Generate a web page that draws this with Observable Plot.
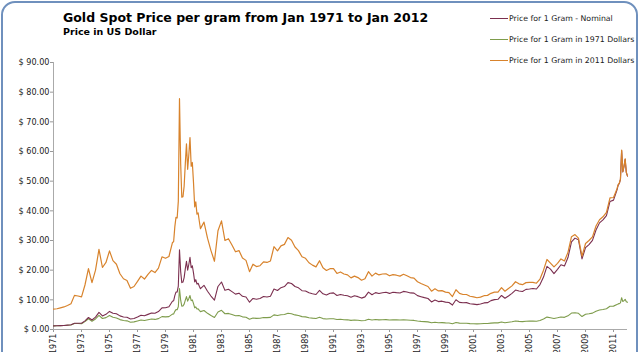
<!DOCTYPE html>
<html>
<head>
<meta charset="utf-8">
<script src="https://cdn.jsdelivr.net/npm/d3@7"></script>
<script src="https://cdn.jsdelivr.net/npm/@observablehq/plot@0.6"></script>
<style>
  html, body { margin: 0; padding: 0; background: #fff; }
  #wrap { position: relative; width: 640px; height: 352px; overflow: hidden; font-family: "DejaVu Sans", sans-serif; }
  #frame { position: absolute; left: 1px; top: 1px; width: 637px; height: 420px; border: 2px solid #6f90bd; border-radius: 14px; box-sizing: border-box; pointer-events: none; }
  #chart { position: absolute; left: 0; top: 0; }
  .title { position: absolute; left: 63px; top: 10px; font-size: 12.5px; font-weight: bold; color: #000; white-space: nowrap; }
  .subtitle { position: absolute; left: 63px; top: 26px; font-size: 9.5px; font-weight: bold; color: #000; white-space: nowrap; }
  .leg { position: absolute; left: 490px; font-size: 7.8px; color: #222; white-space: nowrap; display: flex; align-items: center; }
  .leg span.sw { display: inline-block; width: 18px; height: 0; border-top: 1.3px solid; margin-right: 1px; }
  #chart svg g[aria-label="y-axis tick"] path, #chart svg g[aria-label="x-axis tick"] path { stroke: #999; }
  #chart svg g[aria-label="y-axis"] .tick line, #chart svg g[aria-label="x-axis"] .tick line { stroke: #999; }
  #chart svg .domain { stroke: #aaa; }
</style>
</head>
<body>
<div id="wrap">
  <div id="chart"></div>
  <div class="title">Gold Spot Price per gram from Jan 1971 to Jan 2012</div>
  <div class="subtitle">Price in US Dollar</div>
  <div class="leg" style="top:14px"><span class="sw" style="border-color:#7b2f4f"></span>Price for 1 Gram - Nominal</div>
  <div class="leg" style="top:35px"><span class="sw" style="border-color:#7e9c4c"></span>Price for 1 Gram in 1971 Dollars</div>
  <div class="leg" style="top:56px"><span class="sw" style="border-color:#d8832c"></span>Price for 1 Gram in 2011 Dollars</div>
  <div id="frame"></div>
</div>
<script>
// Dates of the observations (quarterly, monthly around 1979-81 and in 2011)
const dates = [
"1971-01","1971-04","1971-07","1971-10","1972-01","1972-04","1972-07","1972-10",
"1973-01","1973-04","1973-07","1973-10","1974-01","1974-04","1974-07","1974-10",
"1975-01","1975-04","1975-07","1975-10","1976-01","1976-04","1976-07","1976-10",
"1977-01","1977-04","1977-07","1977-10","1978-01","1978-04","1978-07","1978-10",
"1979-01","1979-04","1979-07","1979-08","1979-09","1979-10","1979-11","1979-12",
"1980-01","1980-02","1980-03","1980-04","1980-05","1980-06","1980-07","1980-08",
"1980-09","1980-10","1980-11","1980-12","1981-01","1981-02","1981-03","1981-04",
"1981-05","1981-06","1981-07","1981-10","1982-01","1982-04","1982-07","1982-10",
"1983-01","1983-04","1983-07","1983-10","1984-01","1984-04","1984-07","1984-10",
"1985-01","1985-04","1985-07","1985-10","1986-01","1986-04","1986-07","1986-10",
"1987-01","1987-04","1987-07","1987-10","1988-01","1988-04","1988-07","1988-10",
"1989-01","1989-04","1989-07","1989-10","1990-01","1990-04","1990-07","1990-10",
"1991-01","1991-04","1991-07","1991-10","1992-01","1992-04","1992-07","1992-10",
"1993-01","1993-04","1993-07","1993-10","1994-01","1994-04","1994-07","1994-10",
"1995-01","1995-04","1995-07","1995-10","1996-01","1996-04","1996-07","1996-10",
"1997-01","1997-04","1997-07","1997-10","1998-01","1998-04","1998-07","1998-10",
"1999-01","1999-04","1999-07","1999-10","2000-01","2000-04","2000-07","2000-10",
"2001-01","2001-04","2001-07","2001-10","2002-01","2002-04","2002-07","2002-10",
"2003-01","2003-04","2003-07","2003-10","2004-01","2004-04","2004-07","2004-10",
"2005-01","2005-04","2005-07","2005-10","2006-01","2006-04","2006-07","2006-10",
"2007-01","2007-04","2007-07","2007-10","2008-01","2008-04","2008-07","2008-10",
"2009-01","2009-04","2009-07","2009-10","2010-01","2010-04","2010-07","2010-10",
"2011-01","2011-04","2011-05","2011-06","2011-07","2011-08","2011-09","2011-10",
"2011-11","2011-12","2012-01"
];

// Price for 1 gram - nominal (USD)
const nominal = [
1.22,1.25,1.31,1.37,1.47,1.58,2.11,2.09,
2.09,2.91,4.05,3.22,4.15,5.77,4.59,5.11,
6.10,5.46,5.31,4.59,4.23,4.12,3.55,3.73,
4.25,4.80,4.61,5.10,5.57,5.47,6.06,7.30,
7.31,7.69,9.50,9.68,11.42,12.59,12.62,14.63,
26.90,19.50,15.80,16.00,17.50,20.50,23.00,20.00,
22.00,24.30,20.80,21.50,19.00,16.00,16.80,15.30,
15.60,14.60,13.75,14.90,12.90,11.28,9.90,14.50,
16.00,13.20,13.59,12.77,11.92,12.25,11.19,10.94,
9.20,10.46,10.20,10.46,11.10,10.94,11.21,13.62,
13.13,14.09,14.48,15.80,15.50,14.50,14.05,13.08,
12.99,12.36,12.06,11.80,13.18,12.03,11.65,12.23,
12.33,11.48,11.82,11.52,11.40,10.88,11.35,11.07,
10.58,11.00,12.60,11.71,12.44,12.13,12.40,12.53,
12.17,12.58,12.42,12.32,12.84,12.64,12.33,12.25,
11.41,11.07,10.74,10.45,9.29,9.92,9.41,9.55,
9.23,9.09,8.24,10.02,9.15,9.00,9.05,8.70,
8.54,8.39,8.62,8.96,9.05,9.73,10.07,10.19,
11.47,10.55,11.29,12.19,13.30,12.96,12.80,13.52,
13.63,13.80,13.65,15.14,17.68,21.30,20.37,18.83,
20.29,21.84,21.39,24.26,29.50,30.80,30.22,23.80,
27.61,28.62,30.04,33.54,35.94,36.93,38.36,43.15,
43.61,46.97,48.60,49.20,50.60,60.30,53.10,54.90,
57.40,52.90,51.70
];

// Price for 1 gram in 1971 dollars
const in1971 = [
1.22,1.24,1.29,1.34,1.43,1.54,2.04,2.00,
1.95,2.66,3.63,2.80,3.54,4.78,3.70,4.00,
4.69,4.11,3.89,3.33,3.03,2.92,2.46,2.57,
2.87,3.19,3.01,3.29,3.52,3.40,3.66,4.34,
4.25,4.35,5.19,5.24,6.12,6.69,6.66,7.65,
13.77,9.88,7.89,7.93,8.55,9.91,11.08,9.56,
10.44,11.45,9.74,9.97,8.74,7.31,7.61,6.89,
6.96,6.46,6.02,6.41,5.45,4.71,4.07,5.89,
6.48,5.31,5.42,5.04,4.64,4.71,4.27,4.12,
3.45,3.89,3.75,3.81,4.04,4.00,4.09,4.94,
4.69,4.99,5.08,5.49,5.33,4.92,4.71,4.34,
4.25,3.98,3.84,3.73,4.11,3.68,3.52,3.63,
3.63,3.35,3.43,3.31,3.26,3.08,3.19,3.10,
2.94,3.03,3.45,3.19,3.36,3.26,3.31,3.33,
3.20,3.27,3.24,3.19,3.29,3.20,3.10,3.06,
2.85,2.74,2.66,2.57,2.28,2.42,2.30,2.32,
2.23,2.19,1.96,2.37,2.16,2.09,2.09,1.98,
1.95,1.89,1.93,2.02,2.04,2.16,2.23,2.23,
2.50,2.28,2.44,2.60,2.85,2.73,2.67,2.80,
2.81,2.81,2.76,3.01,3.54,4.18,3.96,3.73,
3.95,4.21,4.09,4.60,5.54,5.66,5.45,4.37,
5.13,5.31,5.52,6.18,6.55,6.73,6.99,7.86,
7.88,8.39,8.64,8.73,8.97,10.71,9.42,9.74,
10.18,9.38,9.17
];

// Price for 1 gram in 2011 dollars
const in2011 = [
6.9,7.0,7.3,7.6,8.1,8.7,11.5,11.3,
11.0,15.0,20.5,15.8,20.0,27.0,20.9,22.6,
26.5,23.2,22.0,18.8,17.1,16.5,13.9,14.5,
16.2,18.0,17.0,18.6,19.9,19.2,20.7,24.5,
24.0,24.6,29.3,29.6,34.6,37.8,37.6,43.2,
77.8,55.8,44.6,44.8,48.3,56.0,62.6,54.0,
59.0,64.7,55.0,56.3,49.4,41.3,43.0,38.9,
39.3,36.5,34.0,36.2,30.8,26.6,23.0,33.3,
36.6,30.0,30.6,28.5,26.2,26.6,24.1,23.3,
19.5,22.0,21.2,21.5,22.8,22.6,23.1,27.9,
26.5,28.2,28.7,31.0,30.1,27.8,26.6,24.5,
24.0,22.5,21.7,21.1,23.2,20.8,19.9,20.5,
20.5,18.9,19.4,18.7,18.4,17.4,18.0,17.5,
16.6,17.1,19.5,18.0,19.0,18.4,18.7,18.8,
18.1,18.5,18.3,18.0,18.6,18.1,17.5,17.3,
16.1,15.5,15.0,14.5,12.9,13.7,13.0,13.1,
12.6,12.4,11.1,13.4,12.2,11.8,11.8,11.2,
11.0,10.7,10.9,11.4,11.5,12.2,12.6,12.6,
14.1,12.9,13.8,14.7,16.1,15.4,15.1,15.8,
15.9,15.9,15.6,17.0,20.0,23.6,22.4,21.1,
22.3,23.8,23.1,26.0,31.3,32.0,30.8,24.7,
29.0,30.0,31.2,34.9,37.0,38.0,39.5,44.4,
44.5,47.4,48.8,49.3,50.7,60.5,53.2,55.0,
57.5,53.0,51.8
];

const tickYears = [1971,1973,1975,1977,1979,1981,1983,1985,1987,1989,1991,1993,1995,1997,1999,2001,2003,2005,2007,2009,2011];
const yTicks = [0,10,20,30,40,50,60,70,80,90];
const xStart = "1971-01", xEnd = "2012-01";

const parse = d3.utcParse("%Y-%m");
const rows = dates.map((d, i) => ({date: parse(d), nominal: nominal[i], in1971: in1971[i], in2011: in2011[i]}));

const chart = Plot.plot({
  width: 640,
  height: 352,
  marginLeft: 53,
  marginRight: 13,
  marginTop: 62,
  marginBottom: 23,
  style: {fontFamily: "'DejaVu Sans Condensed', 'DejaVu Sans'", fontSize: "9px", color: "#222", background: "transparent"},
  x: {
    type: "utc",
    domain: [parse(xStart), parse(xEnd)],
    ticks: tickYears.map(y => new Date(Date.UTC(y, 0, 1))),
    tickFormat: d3.utcFormat("%Y"),
    tickRotate: -90,
    tickSize: 3,
    tickPadding: 1,
    label: null
  },
  y: {
    domain: [0, 90],
    ticks: yTicks,
    tickFormat: d => "$ " + d.toFixed(2),
    tickSize: 3,
    tickPadding: 1,
    label: null
  },
  marks: [
    Plot.ruleY([0], {stroke: "#aaa"}),
    Plot.ruleX([parse(xStart)], {stroke: "#aaa"}),
    Plot.line(rows, {x: "date", y: "in1971", stroke: "#7e9c4c", strokeWidth: 1.1}),
    Plot.line(rows, {x: "date", y: "nominal", stroke: "#7b2f4f", strokeWidth: 1.1}),
    Plot.line(rows, {x: "date", y: "in2011", stroke: "#d8832c", strokeWidth: 1.2})
  ]
});
document.getElementById("chart").appendChild(chart);
</script>
</body>
</html>
